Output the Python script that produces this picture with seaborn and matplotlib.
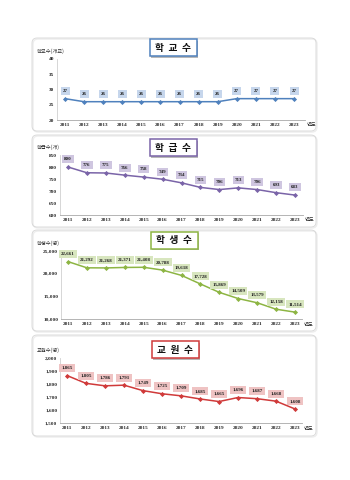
import matplotlib
matplotlib.use("Agg")
import matplotlib.pyplot as plt
import seaborn as sns
import pandas as pd
from matplotlib.patches import FancyBboxPatch, Rectangle
from matplotlib.ticker import FuncFormatter

years = [str(y) for y in range(2011, 2024)]
schools = [27, 26, 26, 26, 26, 26, 26, 26, 26, 27, 27, 27, 27]
classes = [800, 776, 775, 766, 758, 749, 734, 715, 706, 713, 706, 693, 683]
students = [22661, 21292, 21268, 21371, 21408, 20788, 19618, 17728, 15869,
            14509, 13579, 12158, 11514]
teachers = [1865, 1805, 1786, 1791, 1749, 1725, 1709, 1685, 1665, 1696,
            1687, 1668, 1608]

titles = ["학  교  수", "학  급  수", "학  생  수", "교  원  수"]
ylabels = ["학교수(개교)", "학급수(개)", "학생수(명)", "교원수(명)"]
xlabel_end = "연도"

sns.set_style("white")
plt.rcParams['font.family'] = ['Noto Sans CJK KR', 'DejaVu Sans']

W, H = 350, 480
fig = plt.figure(figsize=(3.5, 4.8), dpi=100)
fig.patch.set_facecolor("white")

NUM_FONT = "Liberation Serif"

panels = [
    dict(vals=schools, color="#4F81BD", box="#C6D6EC", ylim=(20, 40), step=5,
         axbox=(57, 59, 305, 120), first=65, last=294,
         border=(32, 38, 316, 131), title_c=(173, 47.5), comma=False),
    dict(vals=classes, color="#7A64A8", box="#CFC6E0", ylim=(600, 850), step=50,
         axbox=(60, 155, 303, 215), first=68, last=295,
         border=(32, 135, 316, 227), title_c=(173, 147.5), comma=False),
    dict(vals=students, color="#8DB543", box="#D8E6BF", ylim=(10000, 25000), step=5000,
         axbox=(61, 251, 302, 319), first=68, last=295,
         border=(32, 230, 316, 331), title_c=(174, 240), comma=True),
    dict(vals=teachers, color="#D03A3A", box="#EFC3C3", ylim=(1500, 2000), step=100,
         axbox=(60, 358, 302, 423), first=67, last=295,
         border=(32, 335, 316, 436), title_c=(175, 349.5), comma=True),
]

for i, p in enumerate(panels):
    x0, y0, x1, y1 = p["axbox"]
    ax = fig.add_axes([x0 / W, 1 - y1 / H, (x1 - x0) / W, (y1 - y0) / H])
    ax.patch.set_alpha(0)
    df = pd.DataFrame({"idx": range(len(years)), "val": p["vals"]})
    sns.lineplot(data=df, x="idx", y="val", ax=ax, color=p["color"],
                 marker="D", markersize=2.6, markeredgewidth=0, linewidth=1.1)
    unit = (p["last"] - p["first"]) / (len(years) - 1)
    ax.set_xlim(-(p["first"] - x0) / unit, len(years) - 1 + (x1 - p["last"]) / unit)
    lo, hi = p["ylim"]
    ax.set_ylim(lo, hi)
    ax.set_yticks(range(lo, hi + 1, p["step"]))
    if p["comma"]:
        ax.yaxis.set_major_formatter(FuncFormatter(lambda v, _: f"{int(v):,}"))
    ax.set_xticks(range(len(years)))
    ax.set_xticklabels(years)
    ax.tick_params(axis="both", length=0, pad=2, labelsize=3.8)
    for lab in ax.get_xticklabels() + ax.get_yticklabels():
        lab.set_fontfamily(NUM_FONT)
        lab.set_fontweight("bold")
    ax.set_xlabel("")
    ax.set_ylabel("")
    for s in ["top", "right"]:
        ax.spines[s].set_visible(False)
    ax.spines["left"].set_color("#D0D0D0")
    ax.spines["left"].set_linewidth(0.6)
    ax.spines["bottom"].set_color("#A8A8A8")
    ax.spines["bottom"].set_linewidth(0.6)
    for k, v in enumerate(p["vals"]):
        txt = f"{v:,}" if p["comma"] else str(v)
        ax.annotate(txt, (k, v), xytext=(0, 5.5), textcoords="offset points",
                    ha="center", va="center", fontsize=3.6, fontweight="bold",
                    fontfamily=NUM_FONT, color="#222222",
                    bbox=dict(boxstyle="square,pad=0.4", fc=p["box"], ec="none"))
    ax.text(1.005, -0.04, xlabel_end, transform=ax.transAxes, fontsize=3.8,
            ha="left", va="top", color="#333333")

# overlay for decorations
ov = fig.add_axes([0, 0, 1, 1], zorder=10)
ov.set_xlim(0, W)
ov.set_ylim(H, 0)
ov.axis("off")
ov.patch.set_alpha(0)

for i, p in enumerate(panels):
    bx0, by0, bx1, by1 = p["border"]
    ov.add_patch(FancyBboxPatch((bx0 + 1, by0 + 1), bx1 - bx0, by1 - by0,
                                boxstyle="round,pad=0,rounding_size=5",
                                fc="none", ec="#EDEDED", lw=1.0))
    ov.add_patch(FancyBboxPatch((bx0, by0), bx1 - bx0, by1 - by0,
                                boxstyle="round,pad=0,rounding_size=5",
                                fc="none", ec="#D6D6D6", lw=0.6))
    cx, cy = p["title_c"]
    tw, th = 47, 17
    ov.add_patch(Rectangle((cx - tw / 2 + 1.5, cy - th / 2 + 1.5), tw, th,
                           fc="#B8B8B8", ec="none"))
    ov.add_patch(Rectangle((cx - tw / 2, cy - th / 2), tw, th,
                           fc="white", ec=p["color"], lw=1.1))
    ov.text(cx, cy, titles[i], ha="center", va="center", fontsize=7,
            fontweight="bold", color="#111111")
    x0, y0, x1, y1 = p["axbox"]
    ov.text(37, y0 - 8, ylabels[i], ha="left", va="center", fontsize=3.8,
            color="#333333")

fig.savefig("out.png", dpi=100)
